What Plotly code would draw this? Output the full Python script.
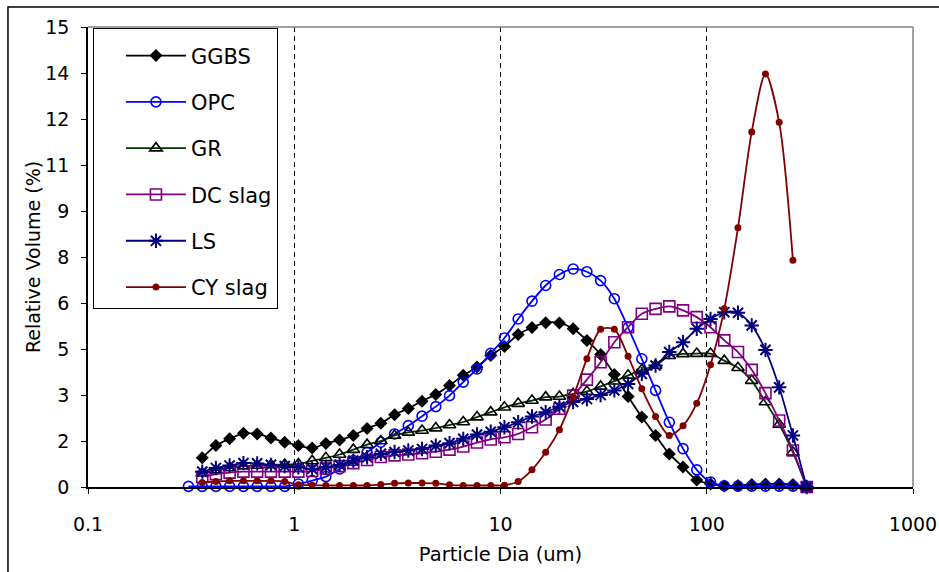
import plotly.graph_objects as go

# particle size classes (um)
SIZES = [0.307, 0.358, 0.417, 0.486, 0.567, 0.661, 0.771, 0.899, 1.047, 1.221,
         1.423, 1.659, 1.934, 2.255, 2.629, 3.064, 3.572, 4.165, 4.855, 5.660,
         6.598, 7.692, 8.966, 10.45, 12.18, 14.21, 16.56, 19.30, 22.50, 26.23,
         30.58, 35.64, 41.55, 48.44, 56.47, 65.82, 76.73, 89.45, 104.3, 121.6,
         141.7, 165.2, 192.6, 224.5, 261.7, 305.1]

GGBS = [0.95, 1.35, 1.57, 1.75, 1.73, 1.60, 1.46, 1.35, 1.27, 1.42,
        1.53, 1.68, 1.91, 2.08, 2.36, 2.56, 2.80, 3.02, 3.31, 3.64,
        3.91, 4.29, 4.58, 4.97, 5.20, 5.36, 5.35, 5.16, 4.78, 4.32,
        3.67, 2.95, 2.28, 1.68, 1.08, 0.65, 0.23, 0.10, 0.03, 0.05,
        0.08, 0.10, 0.10, 0.08, 0.0]

OPC = [0.02, 0.02, 0.02, 0.02, 0.02, 0.02, 0.02, 0.02, 0.10, 0.21,
       0.34, 0.59, 0.86, 1.13, 1.46, 1.73, 2.00, 2.31, 2.62, 2.98,
       3.42, 3.85, 4.36, 4.86, 5.48, 6.06, 6.57, 6.93, 7.11, 7.02,
       6.73, 6.14, 5.20, 4.18, 3.15, 2.11, 1.25, 0.56, 0.16, 0.04,
       0.03, 0.03, 0.03, 0.03, 0.03, 0.0]

GR = [0.45, 0.55, 0.62, 0.68, 0.70, 0.72, 0.73, 0.75, 0.85, 0.95,
      1.06, 1.22, 1.38, 1.50, 1.68, 1.78, 1.84, 1.92, 2.02, 2.12,
      2.28, 2.44, 2.60, 2.72, 2.82, 2.93, 2.95, 3.04, 3.11, 3.28,
      3.45, 3.64, 3.82, 3.96, 4.28, 4.34, 4.35, 4.35, 4.12, 3.89,
      3.47, 2.77, 2.04, 1.13, 0.0]

DC_SLAG = [0.33, 0.42, 0.47, 0.50, 0.50, 0.50, 0.50, 0.50, 0.52, 0.60,
           0.68, 0.78, 0.88, 0.98, 1.03, 1.06, 1.10, 1.15, 1.22, 1.32,
           1.45, 1.55, 1.62, 1.73, 1.95, 2.20, 2.55, 2.98, 3.50, 4.07,
           4.72, 5.21, 5.65, 5.81, 5.89, 5.76, 5.54, 5.21, 4.78, 4.40,
           3.82, 3.06, 2.17, 1.19, 0.0]

LS = [0.50, 0.62, 0.70, 0.78, 0.77, 0.72, 0.68, 0.64, 0.59, 0.65,
      0.72, 0.86, 0.97, 1.08, 1.14, 1.19, 1.24, 1.35, 1.43, 1.57,
      1.71, 1.80, 1.95, 2.11, 2.30, 2.44, 2.62, 2.77, 2.87, 3.00,
      3.15, 3.36, 3.69, 3.96, 4.40, 4.72, 5.16, 5.48, 5.70, 5.68,
      5.27, 4.47, 3.25, 1.68, 0.0]

CY_SLAG = [0.15, 0.18, 0.20, 0.20, 0.20, 0.20, 0.18, 0.07, 0.06, 0.05,
           0.05, 0.05, 0.05, 0.08, 0.12, 0.13, 0.13, 0.12, 0.07, 0.05,
           0.05, 0.05, 0.06, 0.18, 0.56, 1.13, 1.87, 2.93, 4.18, 5.14,
           5.14, 4.26, 3.20, 2.30, 1.68, 2.00, 2.73, 3.99, 5.81, 8.45,
           11.58, 13.47, 11.89, 7.39]

X_TICKS = [0.1, 1, 10, 100, 1000]
X_TICK_TEXT = ["0.1", "1", "10", "100", "1000"]
Y_TICKS = [0, 1.5, 3, 4.5, 6, 7.5, 9, 10.5, 12, 13.5, 15]
Y_TICK_TEXT = ["0", "2", "3", "5", "6", "8", "9", "11", "12", "14", "15"]

FONT = "DejaVu Sans"

series = [
    ("GGBS", SIZES[1:], GGBS, "black", dict(symbol="diamond", size=10, color="black")),
    ("OPC", SIZES, OPC, "#0000FF", dict(symbol="circle-open", size=10, color="#0000FF", line=dict(width=1.6))),
    ("GR", SIZES[1:], GR, "#003300", dict(symbol="triangle-up-open", size=11, color="black", line=dict(width=1.6))),
    ("DC slag", SIZES[1:], DC_SLAG, "#800080", dict(symbol="square-open", size=11, color="#800080", line=dict(width=1.6))),
    ("LS", SIZES[1:], LS, "#000080", dict(symbol="asterisk-open", size=12, color="#000080", line=dict(width=2))),
    ("CY slag", SIZES[1:1 + len(CY_SLAG)], CY_SLAG, "#800000", dict(symbol="circle", size=7, color="#800000")),
]

fig = go.Figure()
for name, xs, ys, lc, mk in series:
    fig.add_trace(go.Scatter(
        x=xs, y=ys, name=name, mode="lines+markers",
        line=dict(color=lc, width=1.8, shape="spline", smoothing=0.8),
        marker=mk, cliponaxis=False, legendgroup=name,
    ))

fig.update_layout(
    width=939, height=572,
    margin=dict(l=88, r=26, t=27, b=85, autoexpand=False),
    paper_bgcolor="white", plot_bgcolor="white",
    font=dict(family=FONT, size=19, color="black"),
    showlegend=True,
    legend=dict(
        x=0.006, y=0.998, xanchor="left", yanchor="top",
        bgcolor="white", bordercolor="black", borderwidth=1,
        font=dict(family=FONT, size=21, color="black"),
        traceorder="grouped", tracegroupgap=16,
        itemwidth=60, indentation=27,
        title=dict(text=" ", font=dict(size=5)),
    ),
    xaxis=dict(
        type="log", range=[-1, 3], automargin=False,
        tickmode="array", tickvals=X_TICKS, ticktext=X_TICK_TEXT,
        ticks="outside", ticklen=5, tickcolor="black",
        showline=True, linecolor="black", linewidth=1.5,
        showgrid=True, gridcolor="black", gridwidth=1, griddash="5px,4px",
        zeroline=False, ticklabelstandoff=14,
        title=dict(text="Particle Dia (um)", font=dict(size=19.5), standoff=14),
    ),
    yaxis=dict(
        range=[0, 15], automargin=False,
        tickmode="array", tickvals=Y_TICKS, ticktext=Y_TICK_TEXT,
        ticks="outside", ticklen=5, tickcolor="black",
        showline=True, linecolor="black", linewidth=1.5,
        showgrid=False, zeroline=False, ticklabelstandoff=8,
        title=dict(text="Relative Volume (%)", font=dict(size=19), standoff=0),
    ),
    shapes=[
        dict(type="line", xref="paper", yref="paper", x0=0, x1=1, y0=1, y1=1,
             line=dict(color="#808080", width=1.5)),
        dict(type="line", xref="paper", yref="paper", x0=1, x1=1, y0=0, y1=1,
             line=dict(color="#808080", width=1.5)),
        dict(type="rect", xref="paper", yref="paper", x0=-0.097, x1=1.2, y0=-0.4, y1=1.0435,
             line=dict(color="black", width=1.5), layer="below"),
    ],
)

fig.write_html("out.html")
